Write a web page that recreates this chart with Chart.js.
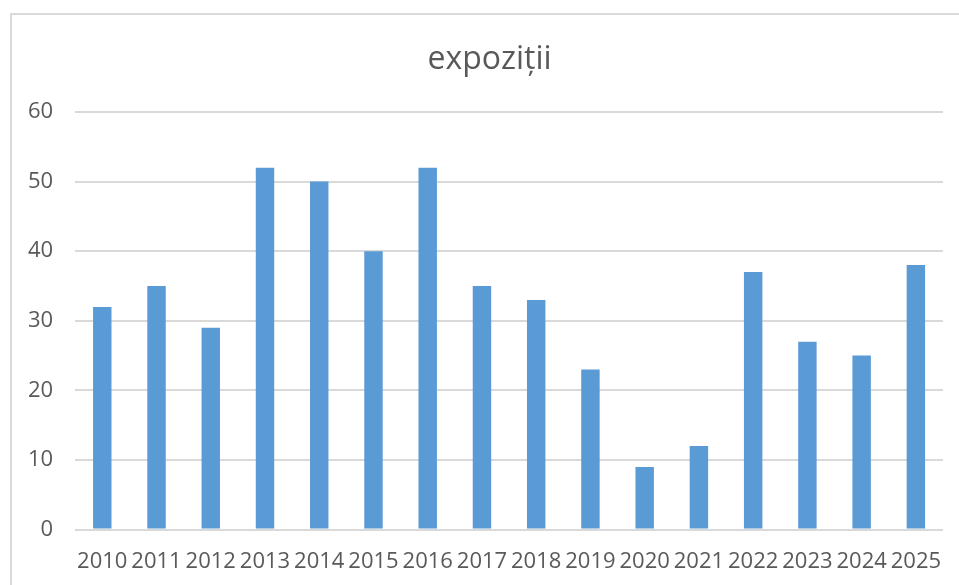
<!DOCTYPE html>
<html>
<head>
<meta charset="utf-8">
<script src="https://cdn.jsdelivr.net/npm/chart.js@4"></script>
<style>
  html, body { margin: 0; padding: 0; background: #fff; }
  #frame { position: absolute; left: 10px; top: 13px; width: 1000px; height: 600px; border: 2px solid #d9d9d9; }
  #myChart { position: absolute; left: 0; top: 0; }
</style>
</head>
<body>
<div id="frame"></div>
<canvas id="myChart" width="959" height="585"></canvas>
<script>
// date
const ani = ["2010", "2011", "2012", "2013", "2014", "2015", "2016", "2017",
  "2018", "2019", "2020", "2021", "2022", "2023", "2024", "2025"];
const expozitii = [32, 35, 29, 52, 50, 40, 52, 35, 33, 23, 9, 12, 37, 27, 25, 38];
const titlu = "expoziții";

const gri = "#595959";
const font = "'Open Sans', 'Noto Sans', sans-serif";

// titlul din original e centrat pe tot cadrul, nu doar intre axe
const mutaTitlu = {
  id: "mutaTitlu",
  afterLayout(chart) {
    const t = chart.titleBlock;
    if (t) { t.left += 15; t.right += 15; }
  },
};

const config = {
  type: "bar",
  data: {
    labels: ani,
    datasets: [{
      label: titlu,
      data: expozitii,
      backgroundColor: "#5b9bd5",
      borderWidth: 0,
      barPercentage: 0.34,
      categoryPercentage: 1,
    }],
  },
  options: {
    responsive: false,
    animation: false,
    layout: { padding: { left: 6, right: 16, top: 0, bottom: -1 } },
    plugins: {
      legend: { display: false },
      tooltip: { enabled: false },
      title: {
        display: true,
        text: titlu,
        color: gri,
        font: { family: font, size: 32, weight: "normal", lineHeight: 1.2 },
        padding: { top: 41, bottom: 32.6 },
      },
    },
    scales: {
      x: {
        grid: { display: false },
        border: { display: false },
        ticks: { color: gri, font: { family: font, size: 22 }, padding: 11, maxRotation: 0, autoSkip: false },
      },
      y: {
        min: 0,
        max: 60,
        grid: { color: "#d9d9d9", lineWidth: 2, drawTicks: false },
        border: { display: false },
        ticks: { stepSize: 10, color: gri, font: { family: font, size: 22 }, padding: 22 },
      },
    },
  },
  plugins: [mutaTitlu],
};

const ctx = document.getElementById("myChart").getContext("2d");
new Chart(ctx, config);
</script>
</body>
</html>
